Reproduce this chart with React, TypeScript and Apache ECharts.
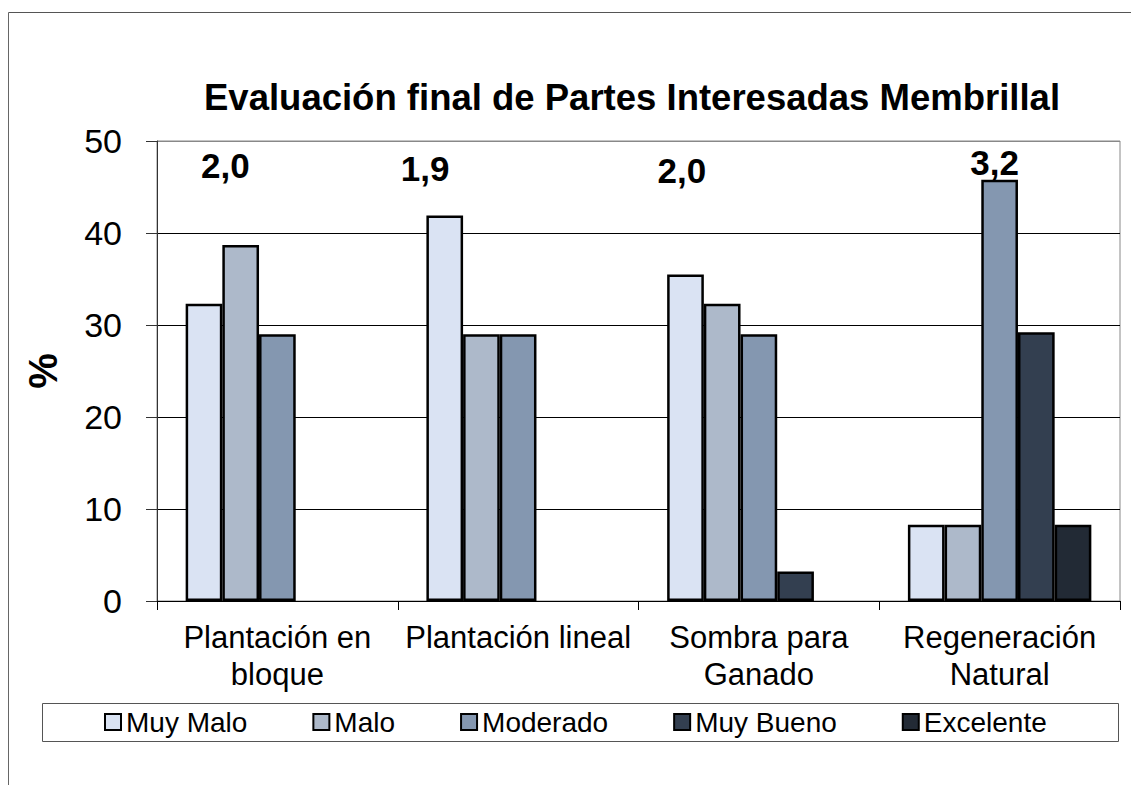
import React, { useEffect, useRef } from 'react';
import * as echarts from 'echarts';

const categories = ['Plantación en\nbloque', 'Plantación lineal', 'Sombra para\nGanado', 'Regeneración\nNatural'];
const seriesNames = ['Muy Malo', 'Malo', 'Moderado', 'Muy Bueno', 'Excelente'];
const muyMalo = [32.3, 41.9, 35.5, 8.3];
const malo = [38.7, 29.0, 32.3, 8.3];
const moderado = [29.0, 29.0, 29.0, 45.8];
const muyBueno = [0, 0, 3.2, 29.2];
const excelente = [0, 0, 0, 8.3];
const scoreLabels = ['2,0', '1,9', '2,0', '3,2'];
const scoreHeights = [47.3, 47.0, 46.8, 47.7];
const yMin = 0;
const yMax = 50;
const yStep = 10;

const seriesColors = ['#DAE3F3', '#ADB9CA', '#8497B0', '#333F50', '#222A35'];
const scoreOffsets = [-52, -93, -77, -5];
const FONT = 'Arial, "Liberation Sans", sans-serif';

export default function App() {
  const ref = useRef<HTMLDivElement>(null);
  useEffect(() => {
    if (!ref.current) return;
    const chart = echarts.init(ref.current, undefined, { renderer: 'svg' });
    const values = [muyMalo, malo, moderado, muyBueno, excelente];
    const barSeries = values.map((arr, i) => ({
      name: seriesNames[i],
      type: 'bar',
      data: arr.map((v) => (v === 0 ? '-' : v)),
      barGap: '0%',
      barCategoryGap: '23.8%',
      itemStyle: { color: seriesColors[i], borderColor: '#000', borderWidth: 2.5 },
    }));
    const scoreSeries = {
      name: 'score',
      type: 'scatter',
      symbolSize: 0,
      silent: true,
      itemStyle: { color: '#000', opacity: 1 },
      data: scoreLabels.map((s, i) => ({
        value: [i, scoreHeights[i]],
        label: {
          show: true,
          position: 'inside',
          offset: [scoreOffsets[i], 0],
          formatter: s,
          fontFamily: FONT,
          fontSize: 35,
          fontWeight: 'bold',
          color: '#000',
          opacity: 1,
          textBorderWidth: 0,
          textBorderColor: 'transparent',
        },
      })),
    };
    chart.setOption({
      animation: false,
      backgroundColor: '#fff',
      textStyle: { fontFamily: FONT },
      title: {
        text: 'Evaluación final de Partes Interesadas Membrillal',
        left: 204,
        top: 77,
        padding: 0,
        textStyle: { fontFamily: FONT, fontSize: 36.5, fontWeight: 'bold', color: '#000', lineHeight: 40 },
      },
      grid: {
        left: 157,
        right: 11,
        top: 141,
        bottom: 184,
        show: true,
        borderColor: '#888',
        borderWidth: 1,
        backgroundColor: 'transparent',
      },
      legend: {
        data: seriesNames,
        left: 104,
        top: 707,
        itemWidth: 16,
        itemHeight: 16,
        itemGap: 65,
        padding: 0,
        icon: 'rect',
        itemStyle: { borderColor: '#000', borderWidth: 2 },
        textStyle: { fontFamily: FONT, fontSize: 28, color: '#000', lineHeight: 30 },
      },
      xAxis: {
        type: 'category',
        data: categories,
        axisLine: { lineStyle: { color: '#000', width: 1 } },
        axisTick: { show: true, length: 9, lineStyle: { color: '#000' } },
        axisLabel: {
          fontFamily: FONT,
          fontSize: 31,
          color: '#000',
          margin: 18,
          lineHeight: 37,
          interval: 0,
        },
      },
      yAxis: {
        type: 'value',
        min: yMin,
        max: yMax,
        interval: yStep,
        name: '%',
        nameLocation: 'middle',
        nameRotate: 90,
        nameGap: 94,
        nameTextStyle: { fontFamily: FONT, fontSize: 40, fontWeight: 'bold', color: '#000' },
        axisLine: { show: true, lineStyle: { color: '#333', width: 1 } },
        axisTick: { show: true, length: 11, inside: false, lineStyle: { color: '#333' } },
        axisLabel: { fontFamily: FONT, fontSize: 34, color: '#000', margin: 35 },
        splitLine: {
          show: true,
          lineStyle: { color: ['#000', '#000', '#000', '#000', '#000', '#888'], width: 1 },
        },
      },
      graphic: [
        { type: 'line', shape: { x1: 8.5, y1: 12.5, x2: 1131, y2: 12.5 }, style: { stroke: '#555', lineWidth: 1 }, silent: true },
        { type: 'line', shape: { x1: 8.5, y1: 12.5, x2: 8.5, y2: 785 }, style: { stroke: '#666', lineWidth: 1 }, silent: true },
        { type: 'rect', shape: { x: 42.5, y: 703.5, width: 1076, height: 38 }, style: { fill: 'none', stroke: '#555', lineWidth: 1 }, silent: true, z: -1 },
      ],
      series: [...barSeries, scoreSeries],
    });
    return () => chart.dispose();
  }, []);
  return <div ref={ref} style={{ position: 'fixed', left: 0, top: 0, width: 1131, height: 785 }} />;
}
